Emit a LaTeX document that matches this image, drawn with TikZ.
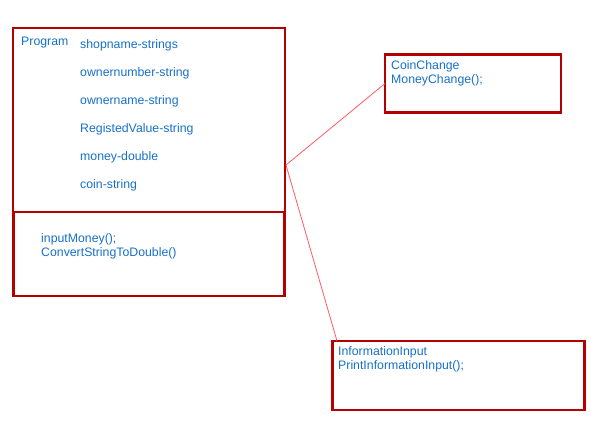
\documentclass[tikz,border=0pt]{standalone}
\usepackage{fontspec}
\setmainfont{Liberation Sans}
\definecolor{boxred}{RGB}{180,0,0}
\definecolor{linkred}{RGB}{255,90,100}
\definecolor{txtblue}{RGB}{22,112,200}
\begin{document}
\begin{tikzpicture}[x=1pt, y=-1pt,
	box/.style={draw=boxred, line width=2.2pt, rectangle, inner sep=0pt, outer sep=0pt, anchor=north west},
	txt/.style={text=txtblue, anchor=base west, inner sep=0pt, font=\fontsize{12.3}{14}\selectfont},
	link/.style={draw=linkred, line width=0.8pt}]
	\useasboundingbox (0,0) rectangle (591,447);
	
	\node[box, minimum width=272pt, minimum height=184pt] (program) at (13,28) {};
	\node[box, minimum width=271pt, minimum height=84pt] (methods) at (13.5,212) {};
	\node[box, minimum width=176pt, minimum height=58pt] (coin) at (385,54.5) {};
	\node[box, minimum width=252pt, minimum height=69pt] (info) at (332.5,341) {};
	
	\node[txt] (progname) at (21,45.5) {Program};
	\foreach \attr [count=\i] in {shopname-strings, ownernumber-string, ownername-string, RegistedValue-string, money-double, coin-string}
		\node[txt] (attr\i) at (80,20+28*\i) {\attr};
	
	\node[txt] (input) at (41,242) {inputMoney();};
	\node[txt] (convert) at (41,256) {ConvertStringToDouble()};
	\node[txt] (coinname) at (391,69) {CoinChange};
	\node[txt] (coinmethod) at (391,83) {MoneyChange();};
	\node[txt] (infoname) at (338,355.5) {InformationInput};
	\node[txt] (infomethod) at (338,369.5) {PrintInformationInput();};
	
	\coordinate (joint) at (286,165);
	\draw[link] (joint) to (coin.west);
	\draw[link] (joint) to ([xshift=4.5pt]info.north west);
	
\end{tikzpicture}
\end{document}
